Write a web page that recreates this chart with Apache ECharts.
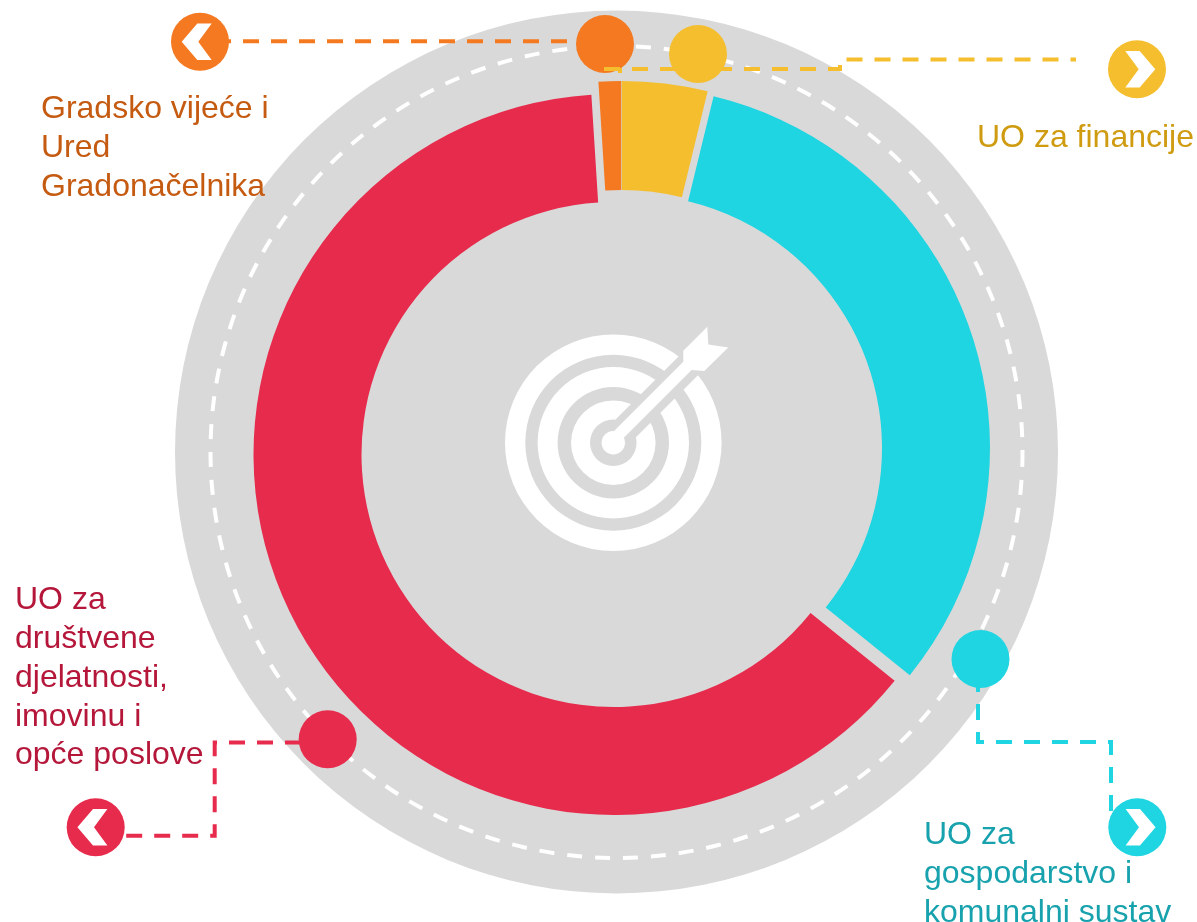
<!DOCTYPE html>
<html>
<head>
<meta charset="utf-8">
<title>Chart</title>
<style>
  html, body { margin: 0; padding: 0; background: #fff; overflow: hidden; }
  #main { width: 1197px; height: 922px; }
</style>
<script src="https://cdn.jsdelivr.net/npm/echarts@6/dist/echarts.min.js"></script>
</head>
<body>
<div id="main"></div>
<script>
// clockwise from 12 o'clock
const categories = ['UO za financije', 'UO za gospodarstvo i komunalni sustav', 'UO za društvene djelatnosti, imovinu i opće poslove', 'Gradsko vijeće i Ured Gradonačelnika'];
const values = [3.8, 32, 63.2, 1.0];
const colors = ['#F4BE2E', '#1FD5E1', '#E72B4C', '#F47920'];
const textColors = ['#CF9B10', '#17A2AD', '#B5173A', '#C55A11'];
const labels = ['UO za financije', 'UO za\ngospodarstvo i\nkomunalni sustav', 'UO za\ndruštvene\ndjelatnosti,\nimovinu i\nopće poslove', 'Gradsko vijeće i\nUred\nGradonačelnika'];

// every slice sits a little off centre
const sliceCenters = [[621.8, 444], [628, 448], [614, 454.5], [621.2, 444]];
const sliceRadius = [[254, 363], [254, 362], [252.5, 360.5], [254, 363]];
const labelPos = [[977, 119], [924, 816], [15, 581], [41, 90]];

const total = values.reduce((a, b) => a + b, 0);
const GREY = '#D9D9D9';

var chartDom = document.getElementById('main');
var myChart = echarts.init(chartDom);
var option;

let used = 0;
const series = values.map(function (v, i) {
  const s = {
    name: categories[i],
    type: 'pie',
    silent: true,
    animation: false,
    center: sliceCenters[i],
    radius: sliceRadius[i],
    startAngle: 90 - used / total * 360,
    label: { show: false },
    labelLine: { show: false },
    data: [
      { name: categories[i], value: v, itemStyle: { color: colors[i] } },
      { name: '', value: total - v, itemStyle: { color: 'transparent' } }
    ]
  };
  used += v;
  return s;
});

const graphic = [];

// backdrop
graphic.push({ type: 'circle', z: 0, shape: { cx: 616.5, cy: 452, r: 441.5 }, style: { fill: GREY } });
graphic.push({ type: 'circle', z: 1, shape: { cx: 616.5, cy: 452, r: 406 }, style: { fill: 'none', stroke: '#fff', lineWidth: 4, lineDash: [15, 13] } });

// leader lines, drawn in the slice order
const leaders = [
  [[604, 69], [840, 69], [840, 59.5], [1076, 59.5]],
  [[978, 676], [978, 742], [1111, 742], [1111, 811]],
  [[301, 742.5], [214.7, 742.5], [214.7, 835.7], [126, 835.7]],
  [[567, 41.3], [215, 41.3]]
];
// the yellow line runs over the orange dot but under its own dot
leaders.forEach(function (pts, i) {
  graphic.push({ type: 'polyline', z: i === 0 ? 7 : 5, shape: { points: pts }, style: { fill: 'none', stroke: colors[i], lineWidth: 4, lineDash: [16, 12] } });
});
graphic.push({ type: 'polyline', z: 7, shape: { points: [[620, 68], [620, 73]] }, style: { fill: 'none', stroke: colors[0], lineWidth: 4 } });

// dots on the dashed ring
const dots = [[698, 54], [980.5, 659], [327.7, 739.3], [605, 44]];
dots.forEach(function (d, i) {
  graphic.push({ type: 'circle', z: i === 0 ? 8 : 6, shape: { cx: d[0], cy: d[1], r: 29 }, style: { fill: colors[i] } });
});

// round chevron buttons
const buttons = [[1137, 69.2, 1], [1137.3, 827.3, 1], [95.7, 827.3, -1], [200, 41.7, -1]];
const chevron = [[-11.7, -18.3], [2.7, -18.3], [18.3, 0], [2.7, 18.3], [-11.7, 18.3], [1.7, 0]];
buttons.forEach(function (b, i) {
  graphic.push({ type: 'circle', z: 6, shape: { cx: b[0], cy: b[1], r: 29 }, style: { fill: colors[i] } });
  graphic.push({
    type: 'polygon', z: 7,
    shape: { points: chevron.map(p => [b[0] + p[0] * b[2], b[1] + p[1]]) },
    style: { fill: '#fff' }
  });
});

// target icon in the middle
const tx = 613.3, ty = 442.7;
const rel = pts => pts.map(p => [tx + p[0], ty + p[1]]);
[[108.3, 88], [75.7, 55.7], [42.3, 23.3]].forEach(function (r) {
  graphic.push({ type: 'ring', z: 8, shape: { cx: tx, cy: ty, r: r[0], r0: r[1] }, style: { fill: '#fff' } });
});
// grey gap the arrow cuts through the rings
graphic.push({ type: 'polygon', z: 9, shape: { points: rel([[-10.5, -10.5], [8.65, 8.65], [93.65, -76.35], [74.5, -95.5]]) }, style: { fill: GREY } });
graphic.push({ type: 'circle', z: 10, shape: { cx: tx, cy: ty, r: 11.7 }, style: { fill: '#fff' } });
graphic.push({ type: 'polygon', z: 10, shape: { points: rel([[-5.5, -5.5], [2.85, 2.85], [80.85, -75.15], [72.5, -83.5]]) }, style: { fill: '#fff' } });
graphic.push({ type: 'polygon', z: 10, shape: { points: rel([[94, -116], [95, -98.3], [115, -95.3], [91, -71.7], [78.3, -72.7], [70, -81], [70, -92]]) }, style: { fill: '#fff' } });

// labels
labels.forEach(function (t, i) {
  graphic.push({
    type: 'text', z: 11, x: labelPos[i][0], y: labelPos[i][1],
    style: { text: t, fill: textColors[i], fontFamily: '"Liberation Sans"', fontSize: 32, lineHeight: 38.8, textAlign: 'left', textVerticalAlign: 'top' }
  });
});

option = {
  animation: false,
  backgroundColor: '#fff',
  tooltip: { show: false },
  series: series,
  graphic: { elements: graphic }
};

option && myChart.setOption(option);
</script>
</body>
</html>
